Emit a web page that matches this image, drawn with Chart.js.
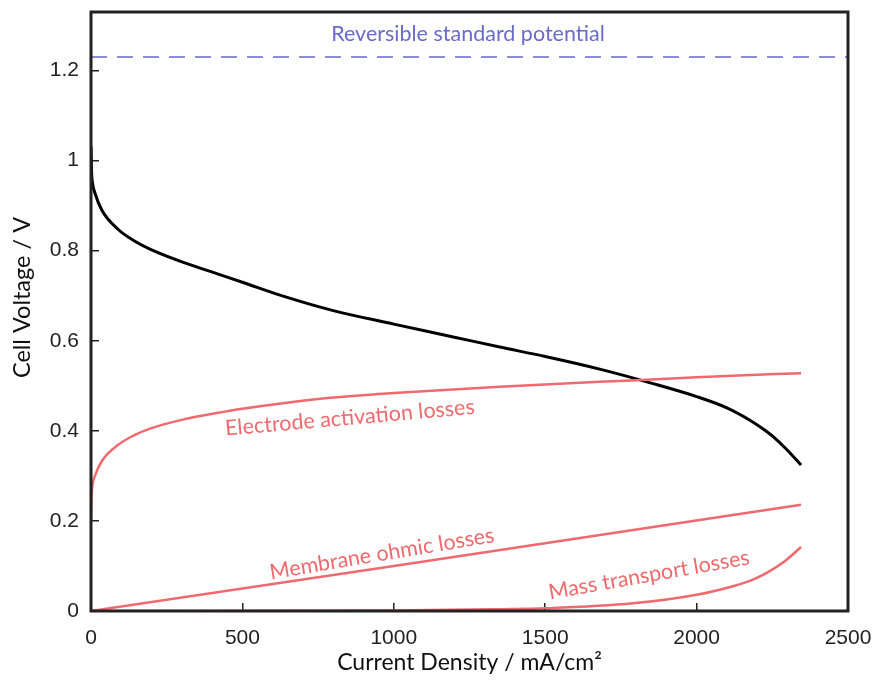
<!DOCTYPE html>
<html>
<head>
<meta charset="utf-8">
<script src="https://cdn.jsdelivr.net/npm/chart.js@4.4.1/dist/chart.umd.min.js"></script>
<style>
  html, body { margin: 0; padding: 0; background: #fff; }
  #wrap { width: 874px; height: 684px; }
</style>
</head>
<body>
<div id="wrap"><canvas id="polChart" width="874" height="684"></canvas></div>
<script>
// values
var cellX = [0, 2, 5, 13, 35, 90, 145, 200, 310, 420, 500, 640, 800, 1000, 1200, 1350, 1500, 1680, 1850, 2000, 2100, 2180, 2220, 2260, 2300, 2345];
var cellV = [1.032, 0.973, 0.95, 0.928, 0.891, 0.847, 0.821, 0.802, 0.773, 0.748, 0.730, 0.698, 0.667, 0.637, 0.608, 0.586, 0.565, 0.537, 0.506, 0.476, 0.451, 0.422, 0.404, 0.383, 0.357, 0.324];

var actX = [0, 2, 5, 13, 35, 90, 145, 200, 310, 420, 500, 640, 800, 1000, 1350, 1680, 1850, 2000, 2180, 2260, 2345];
var actV = [0.20, 0.255, 0.28, 0.30, 0.332, 0.369, 0.391, 0.406, 0.426, 0.440, 0.449, 0.462, 0.474, 0.484, 0.498, 0.509, 0.514, 0.519, 0.524, 0.526, 0.528];

var ohmX = [0, 1000, 2345];
var ohmV = [0, 0.1, 0.236];

var massX = [0, 1000, 1350, 1500, 1790, 2000, 2120, 2180, 2230, 2290, 2345];
var massV = [0, 0.001, 0.004, 0.006, 0.017, 0.036, 0.055, 0.068, 0.084, 0.110, 0.142];

var reversibleV = 1.23;
var xTicks = [0, 500, 1000, 1500, 2000, 2500];
var yTicks = [0, 0.2, 0.4, 0.6, 0.8, 1, 1.2];

var red = '#f0696e';
var blue = '#6a6acb';

function pts(xs, ys) {
    return xs.map(function (x, i) { return { x: x, y: ys[i] }; });
}

// curve labels, anchored in data coordinates
var curveLabels = [
    { text: 'Reversible standard potential', x: 1245, y: 1.282, angle: 0, color: blue },
    { text: 'Electrode activation losses', x: 855, y: 0.429, angle: -5, color: red },
    { text: 'Membrane ohmic losses', x: 961, y: 0.127, angle: -9.5, color: red },
    { text: 'Mass transport losses', x: 1843, y: 0.08, angle: -10, color: red }
];

var labelPlugin = {
    id: 'labels',
    afterDatasetsDraw: function (chart) {
        var ctx = chart.ctx;
        var xs = chart.scales.x, ys = chart.scales.y;
        ctx.save();
        ctx.font = '21.5px Lato';
        ctx.textAlign = 'center';
        ctx.textBaseline = 'middle';
        curveLabels.forEach(function (l) {
            ctx.save();
            ctx.translate(xs.getPixelForValue(l.x), ys.getPixelForValue(l.y));
            ctx.rotate(l.angle * Math.PI / 180);
            ctx.fillStyle = l.color;
            ctx.fillText(l.text, 0, 0);
            ctx.restore();
        });
        ctx.restore();
    },
    afterDraw: function (chart) {
        var a = chart.chartArea, ctx = chart.ctx;
        ctx.save();
        ctx.strokeStyle = '#222';
        ctx.lineWidth = 3;
        ctx.strokeRect(a.left, a.top, a.right - a.left, a.bottom - a.top);
        // y axis title
        ctx.fillStyle = '#111';
        ctx.font = '23.5px Lato';
        ctx.textAlign = 'center';
        ctx.textBaseline = 'middle';
        ctx.translate(22, (a.top + a.bottom) / 2 - 14);
        ctx.rotate(-Math.PI / 2);
        ctx.fillText('Cell Voltage / V', 0, 0);
        ctx.restore();
    }
};

var ctx = document.getElementById('polChart').getContext('2d');
var polChart = new Chart(ctx, {
    type: 'line',
    data: {
        datasets: [
            {
                label: 'Reversible standard potential',
                data: [{ x: 0, y: reversibleV }, { x: 2500, y: reversibleV }],
                borderColor: blue,
                borderWidth: 1.5,
                borderDash: [16, 10],
                pointRadius: 0
            },
            {
                label: 'Electrode activation losses',
                data: pts(actX, actV),
                borderColor: red,
                borderWidth: 2.5,
                pointRadius: 0,
                cubicInterpolationMode: 'monotone'
            },
            {
                label: 'Membrane ohmic losses',
                data: pts(ohmX, ohmV),
                borderColor: red,
                borderWidth: 2.5,
                pointRadius: 0
            },
            {
                label: 'Mass transport losses',
                data: pts(massX, massV),
                borderColor: red,
                borderWidth: 2.5,
                pointRadius: 0,
                cubicInterpolationMode: 'monotone'
            },
            {
                label: 'Cell voltage',
                data: pts(cellX, cellV),
                borderColor: '#000',
                borderWidth: 3,
                pointRadius: 0,
                cubicInterpolationMode: 'monotone'
            }
        ]
    },
    options: {
        responsive: false,
        animation: false,
        layout: { padding: { top: 12, right: 26, left: 0, bottom: 0 } },
        plugins: {
            legend: { display: false },
            tooltip: { enabled: false }
        },
        scales: {
            x: {
                type: 'linear',
                min: 0,
                max: 2500,
                afterFit: function (s) { s.height = 73; s.paddingLeft = 0; s.paddingRight = 0; },
                afterBuildTicks: function (s) { s.ticks = xTicks.map(function (v) { return { value: v }; }); },
                border: { display: false },
                grid: { drawOnChartArea: false, drawTicks: true, tickLength: -8, color: '#222', lineWidth: 1.5 },
                ticks: {
                    padding: 23, color: '#222', font: { family: 'Liberation Sans', size: 21 }, maxRotation: 0,
                    callback: function (v) { return String(v); }
                },
                title: {
                    display: true,
                    text: 'Current Density / mA/cm²',
                    color: '#111',
                    font: { family: 'Lato', size: 23 },
                    padding: { top: 0, bottom: 8 }
                }
            },
            y: {
                min: 0,
                max: 1.33,
                afterFit: function (s) { s.width = 91; s.paddingTop = 0; s.paddingBottom = 0; },
                afterBuildTicks: function (s) { s.ticks = yTicks.map(function (v) { return { value: v }; }); },
                border: { display: false },
                grid: { drawOnChartArea: false, drawTicks: true, tickLength: -8, color: '#222', lineWidth: 1.5 },
                ticks: {
                    padding: 20, color: '#222', font: { family: 'Liberation Sans', size: 21 },
                    callback: function (v) { return String(v); }
                }
            }
        }
    },
    plugins: [labelPlugin]
});
</script>
</body>
</html>
